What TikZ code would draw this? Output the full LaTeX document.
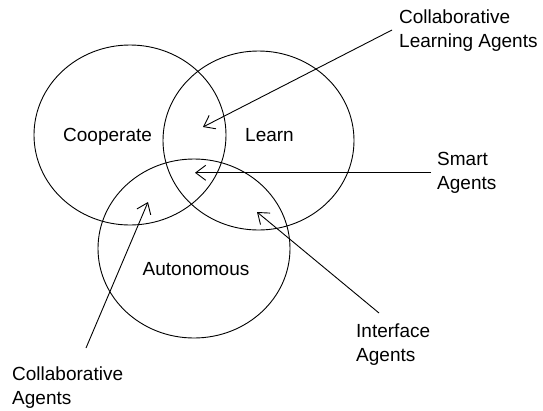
\documentclass[tikz,border=0pt]{standalone}
\usepackage{fontspec}
\setmainfont{Liberation Sans}
\usetikzlibrary{arrows.meta,shapes.geometric}
\begin{document}
\begin{tikzpicture}[x=1pt,y=-1pt,
  ring/.style={draw=black, line width=0.9pt, ellipse, inner sep=0pt, outer sep=0pt},
  lbl/.style={font=\fontsize{19}{24.5}\selectfont, inner sep=0pt, align=left, anchor=north west},
  setname/.style={font=\fontsize{19}{24}\selectfont, inner sep=0pt, anchor=base west},
  pointer/.style={draw=black, line width=0.9pt, -{Straight Barb[length=10pt,width=15pt]}}]
\useasboundingbox (0,0) rectangle (543,410);
\fill[white] (0,0) rectangle (543,410);
% circles
\node[ring, minimum width=192pt, minimum height=180pt] (coop) at (130,135) {};
\node[ring, minimum width=191pt, minimum height=179pt] (learn) at (258.5,140.5) {};
\node[ring, minimum width=192pt, minimum height=179pt] (auto) at (194,248.5) {};
% set names
\node[setname] (tcoop) at (63,141.5) {Cooperate};
\node[setname] (tlearn) at (245,141.5) {Learn};
\node[setname] (tauto) at (142.5,275) {Autonomous};
% labels
\node[lbl] (cla) at (399,9.3) {Collaborative\\Learning Agents};
\node[lbl] (sma) at (437,151.8) {Smart\\Agents};
\node[lbl] (ifa) at (356,323.3) {Interface\\Agents};
\node[lbl] (cola) at (12,366.3) {Collaborative\\Agents};
% arrow end points
\coordinate (claS) at (392,30);
\coordinate (claT) at (203,127);
\coordinate (smaS) at (431,172.8);
\coordinate (smaT) at (195,172.8);
\coordinate (ifaS) at (379,313);
\coordinate (ifaT) at (257,212);
\coordinate (colaS) at (86,348);
\coordinate (colaT) at (148,202);
\draw[pointer] (claS) -- (claT);
\draw[pointer] (smaS) -- (smaT);
\draw[pointer] (ifaS) -- (ifaT);
\draw[pointer] (colaS) -- (colaT);
\end{tikzpicture}
\end{document}
